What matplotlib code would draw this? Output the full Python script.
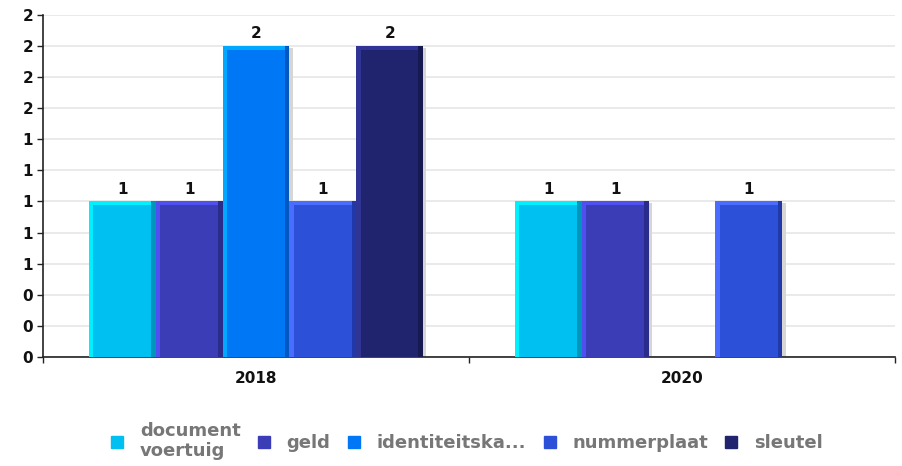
import matplotlib
matplotlib.use("Agg")
import matplotlib.pyplot as plt
from matplotlib.lines import Line2D
import numpy as np

# Data
years = ["2018", "2020"]
series = ["document\nvoertuig", "geld", "identiteitska...", "nummerplaat", "sleutel"]
values = {
    "document\nvoertuig": [1, 1],
    "geld": [1, 1],
    "identiteitska...": [2, 0],
    "nummerplaat": [1, 1],
    "sleutel": [2, 0],
}
colors = ["#00C0F2", "#3A3DB5", "#0078F5", "#2D50D8", "#20246E"]
light = ["#00F0FF", "#5050F0", "#00A8FF", "#4A6CFF", "#303494"]
dark = ["#0096BC", "#2A2C8C", "#0058C0", "#2038A8", "#161A50"]
yticks = [0, 0.2, 0.4, 0.6, 0.8, 1.0, 1.2, 1.4, 1.6, 1.8, 2.0, 2.2]

fig = plt.figure(figsize=(9.03, 4.66), dpi=100)
ax = fig.add_axes([0.0476, 0.234, 0.9435, 0.734])

x = np.arange(len(years))
n = len(series)
w = 0.785 / n
strip = w * 0.07
cap = 0.025

for j, name in enumerate(series):
    vals = np.array(values[name], dtype=float)
    pos = x + (j - (n - 1) / 2) * w
    mask = vals > 0
    p, v = pos[mask], vals[mask]
    # soft shadow on the right side
    ax.bar(p + strip * 0.7, v - 0.01, width=w, color="#d6d6d6", zorder=2)
    ax.bar(p, v, width=w, color=colors[j], zorder=3)
    # bevel highlights: left and top light, right dark
    ax.bar(p - w / 2 + strip / 2, v, width=strip, color=light[j], zorder=4)
    ax.bar(p + w / 2 - strip / 2, v, width=strip, color=dark[j], zorder=4)
    ax.bar(p - strip / 2, cap, bottom=v - cap, width=w - strip, color=light[j], zorder=4)
    for pp, vv in zip(p, v):
        ax.text(pp, vv + 0.03, f"{vv:.0f}", ha="center", va="bottom",
                fontsize=11, fontweight="bold", color="#111111", zorder=5)

ax.set_xlim(-0.5, len(years) - 0.5)
ax.set_ylim(0, 2.2)
ax.set_yticks(yticks)
ax.set_yticklabels([f"{t:.0f}" for t in yticks])
ax.yaxis.grid(True, color="#e8e8e8", linewidth=1.3, zorder=0)
ax.set_axisbelow(True)

ax.set_xticks(np.arange(-0.5, len(years), 1.0))
ax.set_xticklabels([])
ax.set_xticks(x, minor=True)
ax.set_xticklabels(years, minor=True)
ax.tick_params(axis="x", which="major", length=4, width=1, color="#222222", direction="out")
ax.tick_params(axis="x", which="minor", length=0, pad=10)
ax.tick_params(axis="y", length=4, width=1, color="#222222", pad=3)
for lab in ax.get_xticklabels(minor=True) + ax.get_yticklabels():
    lab.set_fontsize(11)
    lab.set_fontweight("bold")
    lab.set_color("#111111")

for s in ["top", "right"]:
    ax.spines[s].set_visible(False)
ax.spines["left"].set_color("#222222")
ax.spines["bottom"].set_color("#222222")
ax.spines["left"].set_linewidth(1.2)
ax.spines["bottom"].set_linewidth(1.2)

handles = [Line2D([], [], marker="s", linestyle="none", markersize=9,
                  markerfacecolor=c, markeredgecolor=c) for c in colors]
leg = fig.legend(handles, series, loc="center", bbox_to_anchor=(0.517, 0.054),
                 ncol=n, frameon=False, handlelength=0.7, handletextpad=0.9,
                 columnspacing=0.95, prop={"size": 13, "weight": "bold"})
for t in leg.get_texts():
    t.set_color("#777777")
    t.set_linespacing(1.1)

fig.savefig("out.png", dpi=100)
